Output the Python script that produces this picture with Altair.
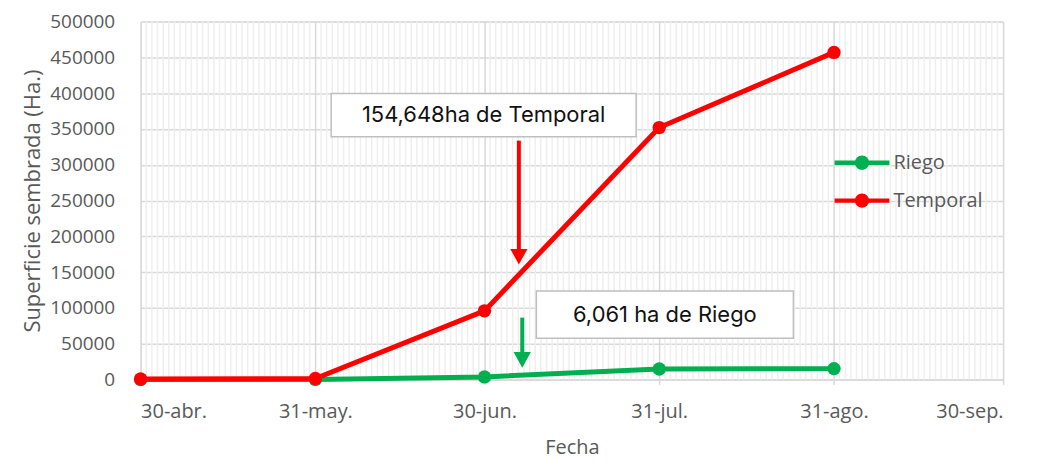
import altair as alt
import pandas as pd

# ---- data ----
fechas = ["2021-04-30", "2021-05-31", "2021-06-30", "2021-07-31", "2021-08-31"]
riego = [0, 0, 3700, 14700, 15300]
temporal = [800, 1500, 96000, 352000, 457000]
series = ["Riego", "Temporal"]
colores = ["#00B050", "#FF0000"]

tick_fechas = ["2021-04-30", "2021-05-31", "2021-06-30", "2021-07-31", "2021-08-31", "2021-09-30"]
tick_labels = ["30-abr.", "31-may.", "30-jun.", "31-jul.", "31-ago.", "30-sep."]
y_ticks = list(range(0, 500001, 50000))

# annotations (data units: x in days from 30-abr, y in ha)
anot_textos = ["154,648ha de Temporal", "6,061 ha de Riego"]
anot_colores = ["#FF0000", "#00B050"]
anot_box_x1 = [33.8, 70.2]
anot_box_x2 = [87.9, 115.8]
anot_box_y1 = [339300, 57700]
anot_box_y2 = [399700, 123600]
flecha_x = [67.1, 67.7]
flecha_y_top = [333800, 86500]
flecha_y_end = [176000, 32000]
flecha_head_y = [171700, 27500]

# ---- derived tables ----
t0 = pd.Timestamp(tick_fechas[0])
dias = [(pd.Timestamp(f) - t0).days for f in fechas]
tick_dias = [(pd.Timestamp(f) - t0).days for f in tick_fechas]
x_max = tick_dias[-1]

rows = []
for s, vals in zip(series, [riego, temporal]):
    for d, v in zip(dias, vals):
        rows.append({"dia": d, "valor": v, "serie": s})
df = pd.DataFrame(rows)

minor = pd.DataFrame({"dia": [d for d in range(0, x_max + 1) if d not in tick_dias]})

anot = pd.DataFrame({
    "texto": anot_textos, "color": anot_colores,
    "x1": anot_box_x1, "x2": anot_box_x2, "y1": anot_box_y1, "y2": anot_box_y2,
    "fx": flecha_x, "fy1": flecha_y_top, "fy2": flecha_y_end, "hy": flecha_head_y,
})
anot["tx"] = (anot["x1"] + anot["x2"]) / 2
anot["ty"] = (anot["y1"] + anot["y2"]) / 2

label_expr = " : ".join(
    f"datum.value == {d} ? '{l}'" for d, l in zip(tick_dias, tick_labels)
) + " : ''"

FONT = "Open Sans"
GREY = "#595959"
GRID = "#d9d9d9"

xscale = alt.Scale(domain=[0, x_max], nice=False, zero=False)
yscale = alt.Scale(domain=[0, 500000], nice=False)

x_axis = alt.Axis(
    values=tick_dias, labelExpr=label_expr, title="Fecha",
    grid=True, gridColor=GRID, gridWidth=1.5, domainColor=GRID, domainWidth=1.5,
    tickColor=GRID, tickWidth=1.5,
    tickSize=5, labelPadding=17, titlePadding=16,
    labelFont=FONT, labelFontSize=20, labelColor=GREY,
    titleFont=FONT, titleFontSize=20, titleColor=GREY, titleFontWeight="normal",
)
y_axis = alt.Axis(
    values=y_ticks, format="d", title="Superficie sembrada (Ha.)",
    grid=True, gridColor=GRID, gridWidth=1.5, domain=False, ticks=False, labelPadding=26,
    titlePadding=5,
    labelFont=FONT, labelFontSize=19, labelColor=GREY,
    titleFont=FONT, titleFontSize=22, titleColor=GREY, titleFontWeight="normal",
)

color_scale = alt.Scale(domain=series, range=colores)

legend_path = ("M-1,-0.08L1,-0.08L1,0.08L-1,0.08Z "
               "M0.26,0A0.26,0.26 0 1,1 -0.26,0A0.26,0.26 0 1,1 0.26,0Z")
legend = alt.Legend(
    title=None, orient="none", legendX=696, legendY=114,
    symbolType=legend_path, symbolSize=3025, symbolStrokeWidth=0,
    symbolOpacity=1, labelFont=FONT, labelFontSize=20, labelColor=GREY,
    labelOffset=4, rowPadding=0, padding=0,
)

minor_grid = alt.Chart(minor).mark_rule(color="#efefef", strokeWidth=1.5).encode(
    x=alt.X("dia:Q", scale=xscale, axis=x_axis),
)

lines = alt.Chart(df).mark_line(strokeWidth=5).encode(
    x=alt.X("dia:Q", scale=xscale, axis=x_axis),
    y=alt.Y("valor:Q", scale=yscale, axis=y_axis),
    color=alt.Color("serie:N", scale=color_scale, legend=legend),
)

points = alt.Chart(df).mark_circle(size=180, opacity=1).encode(
    x=alt.X("dia:Q", scale=xscale, axis=x_axis),
    y=alt.Y("valor:Q", scale=yscale, axis=y_axis),
    color=alt.Color("serie:N", scale=color_scale, legend=legend),
)

boxes = alt.Chart(anot).mark_rect(fill="white", stroke="#bfbfbf", strokeWidth=1.5).encode(
    x=alt.X("x1:Q", scale=xscale, axis=x_axis), x2="x2",
    y=alt.Y("y1:Q", scale=yscale, axis=y_axis), y2="y2",
)

texts = alt.Chart(anot).mark_text(font="Inter", fontSize=22, color="#111111").encode(
    x=alt.X("tx:Q", scale=xscale, axis=x_axis),
    y=alt.Y("ty:Q", scale=yscale, axis=y_axis),
    text="texto:N",
)

shafts = alt.Chart(anot).mark_rule(strokeWidth=4).encode(
    x=alt.X("fx:Q", scale=xscale, axis=x_axis),
    y=alt.Y("fy1:Q", scale=yscale, axis=y_axis), y2="fy2",
    color=alt.Color("color:N", scale=None),
)

heads = alt.Chart(anot).mark_point(
    shape="M-1,-0.9L1,-0.9L0,0.9Z", size=300, filled=True, opacity=1
).encode(
    x=alt.X("fx:Q", scale=xscale, axis=x_axis),
    y=alt.Y("hy:Q", scale=yscale, axis=y_axis),
    color=alt.Color("color:N", scale=None),
)

chart = alt.layer(minor_grid, lines, points, boxes, texts, shafts, heads).properties(
    width=865, height=359,
    autosize=alt.AutoSizeParams(type="none"),
    padding={"left": 133, "top": 13, "right": 35, "bottom": 80},
).configure_view(stroke=None).configure(background="white")

chart.save("out.html", embed_options={"renderer": "svg", "actions": False})
